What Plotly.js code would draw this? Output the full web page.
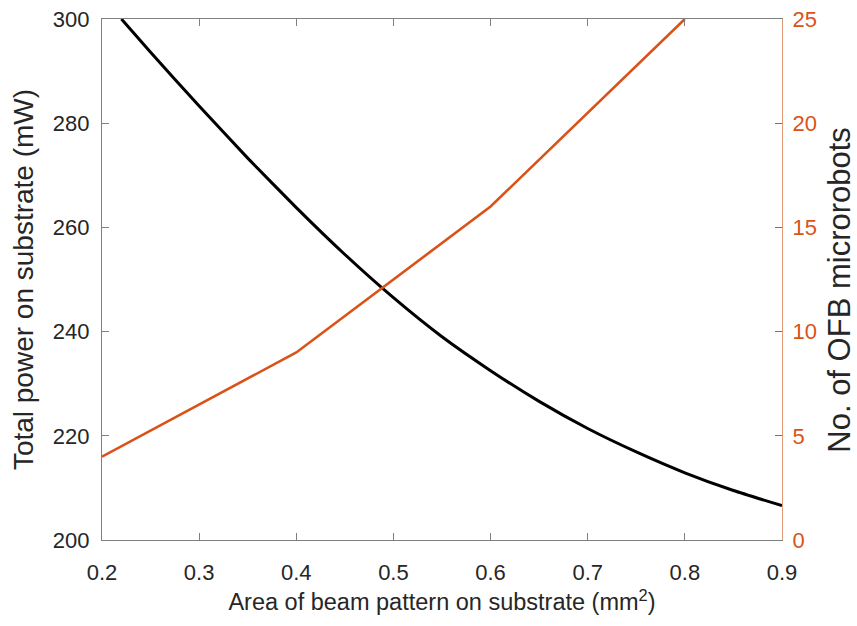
<!DOCTYPE html>
<html>
<head>
<meta charset="utf-8">
<script src="https://cdn.plot.ly/plotly-3.0.1.min.js"></script>
<style>
  html, body { margin: 0; padding: 0; background: #ffffff; }
  #chart { width: 857px; height: 626px; }
</style>
</head>
<body>
<div id="chart"></div>
<script>
// Beam pattern area (mm^2) against total power on the substrate (mW)
const areaPower = [0.22, 0.25, 0.30, 0.35, 0.40, 0.45, 0.50, 0.55, 0.60, 0.65, 0.70, 0.75, 0.80, 0.85, 0.90];
const totalPower = [300.0, 293.6, 283.3, 273.3, 263.8, 254.8, 246.5, 239.0, 232.5, 226.6, 221.4, 216.9, 212.9, 209.5, 206.6];

// Beam pattern area (mm^2) against number of OFB microrobots
const areaRobots = [0.2, 0.4, 0.6, 0.8];
const robotCount = [4, 9, 16, 25];

const xTicks = [0.2, 0.3, 0.4, 0.5, 0.6, 0.7, 0.8, 0.9];
const powerTicks = [200, 220, 240, 260, 280, 300];
const robotTicks = [0, 5, 10, 15, 20, 25];

const ORANGE = '#D95319';
const AXIS_GREY = '#808080';
const TEXT_DARK = '#262626';
const FONT = '"Liberation Sans", Arial, sans-serif';

const traces = [
  {
    x: areaPower, y: totalPower,
    type: 'scatter', mode: 'lines',
    line: { color: '#000000', width: 3, shape: 'spline', smoothing: 0.5 },
    yaxis: 'y', hoverinfo: 'x+y'
  },
  {
    x: areaRobots, y: robotCount,
    type: 'scatter', mode: 'lines',
    line: { color: ORANGE, width: 2.6 },
    yaxis: 'y2', hoverinfo: 'x+y'
  }
];

const layout = {
  width: 857, height: 626,
  margin: { l: 102, r: 75, t: 19, b: 86, pad: 0 },
  paper_bgcolor: '#ffffff', plot_bgcolor: '#ffffff',
  showlegend: false,
  xaxis: {
    range: [0.2, 0.9],
    tickvals: xTicks,
    ticktext: xTicks.map(v => v.toFixed(1)),
    ticks: 'inside', ticklen: 7, tickcolor: AXIS_GREY, tickwidth: 1,
    showline: true, linecolor: AXIS_GREY, linewidth: 1.2,
    mirror: 'ticks',
    showgrid: false, zeroline: false,
    ticklabelstandoff: 12,
    tickfont: { family: FONT, size: 22, color: TEXT_DARK },
    title: {
      text: 'Area of beam pattern on substrate (mm<sup>2</sup>)',
      font: { family: FONT, size: 23.5, color: TEXT_DARK },
      standoff: 10
    }
  },
  yaxis: {
    range: [200, 300],
    tickvals: powerTicks,
    ticks: 'inside', ticklen: 7, tickcolor: AXIS_GREY, tickwidth: 1,
    showline: true, linecolor: AXIS_GREY, linewidth: 1.2,
    showgrid: false, zeroline: false,
    ticklabelstandoff: 7,
    tickfont: { family: FONT, size: 22, color: TEXT_DARK },
    title: {
      text: 'Total power on substrate (mW)',
      font: { family: FONT, size: 28, color: TEXT_DARK },
      standoff: 10
    }
  },
  yaxis2: {
    range: [0, 25],
    tickvals: robotTicks,
    overlaying: 'y', side: 'right',
    ticks: 'inside', ticklen: 7, tickcolor: ORANGE, tickwidth: 1,
    showline: true, linecolor: '#E29A78', linewidth: 1.2,
    showgrid: false, zeroline: false,
    ticklabelstandoff: 5,
    tickfont: { family: FONT, size: 22, color: ORANGE }
  },
  annotations: [
    {
      // right-hand axis title, set slightly below the plot's middle
      text: 'No. of OFB microrobots',
      xref: 'paper', yref: 'paper',
      x: 1.085, y: 0.48,
      xanchor: 'center', yanchor: 'middle',
      textangle: -90, showarrow: false,
      font: { family: FONT, size: 31, color: TEXT_DARK }
    }
  ]
};

Plotly.newPlot('chart', traces, layout, { staticPlot: true, displayModeBar: false });
</script>
</body>
</html>
